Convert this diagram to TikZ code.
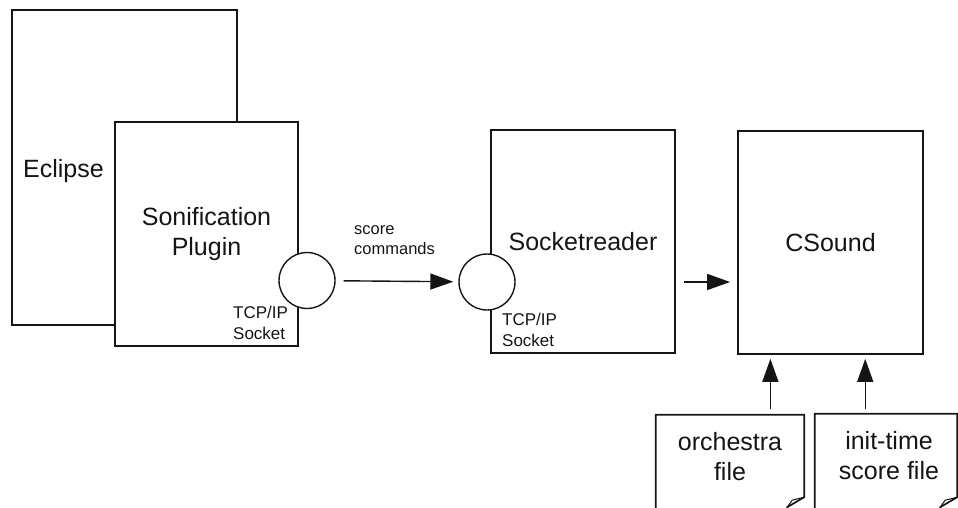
\documentclass[tikz,border=0pt]{standalone}
\usepackage{fontspec}
\setmainfont{Liberation Sans}
\usepackage{tikz}
\usetikzlibrary{calc,arrows.meta}
\definecolor{ink}{HTML}{151515}
\definecolor{paper}{HTML}{FFFFFF}
\tikzset{
  box/.style={draw=ink, line width=1.7pt, fill=paper, align=center, text=ink, font=\fontsize{25}{30}\selectfont},
  socket/.style={circle, draw=ink, line width=1.4pt, fill=paper, minimum size=56pt, inner sep=0pt},
  smalltext/.style={align=left, inner sep=0pt, text=ink, font=\fontsize{17}{21}\selectfont},
  bigtext/.style={align=center, inner sep=0pt, text=ink, font=\fontsize{25}{30}\selectfont},
  filebox/.style={inner sep=0pt},
  outline/.style={draw=ink, line width=1.7pt, fill=paper, line join=miter},
  flow/.style={draw=ink, line width=1.4pt, -{Triangle[length=23pt,width=16pt]}}
}

\begin{document}
\begin{tikzpicture}[x=1pt,y=-1pt]
\useasboundingbox (0,0) rectangle (958,507);
\clip (0,0) rectangle (958,507);
% host and plugin
\node[box, minimum width=225pt, minimum height=315pt] (eclipse) at (124.5,167.5) {};
\node[bigtext, anchor=base west] (eclipselabel) at (23,177) {Eclipse};
\node[box, minimum width=183pt, minimum height=224pt] (plugin) at (206.5,234) {Sonification\\Plugin};
\node[socket] (sockL) at (307,280.5) {};
\node[smalltext, anchor=north west] (tcpL) at (233,305.5) {TCP/IP\\Socket};
% reader
\node[box, minimum width=184pt, minimum height=223pt] (sreader) at (583,241.5) {Socketreader};
\node[socket] (sockR) at (487,282) {};
\node[smalltext, anchor=north west] (tcpR) at (502,313) {TCP/IP\\Socket};
% synth
\node[box, minimum width=185pt, minimum height=223pt] (csound) at (830.5,242.5) {CSound};
\coordinate (in1) at ($(csound.south west)!0.178!(csound.south east)$);
\coordinate (in2) at ($(csound.south west)!0.686!(csound.south east)$);
% input files, cut off at the bottom
\node[filebox, minimum width=148pt, minimum height=97pt] (orch) at (730,463.5) {};
\node[filebox, minimum width=142pt, minimum height=98pt] (init) at (886,463) {};
\foreach \f in {orch,init}{
  \draw[outline] (\f.south west) -- (\f.north west) -- (\f.north east)
    -- ([yshift=15pt]\f.south east) -- ([xshift=-17pt,yshift=5pt]\f.south east)
    -- ([xshift=-17pt]\f.south east) -- cycle;
  \draw[draw=ink, line width=1pt] ([yshift=15pt]\f.south east) -- ([xshift=-12pt,yshift=12pt]\f.south east)
    -- ([xshift=-17pt,yshift=5pt]\f.south east);
}
\node[bigtext] (orchlabel) at ([yshift=6.5pt]orch.center) {orchestra\\file};
\node[bigtext] (initlabel) at ([xshift=3pt,yshift=7pt]init.center) {init-time\\score file};
% connectors
\draw[flow, shorten <=8pt, shorten >=5pt] (sockL) -- (sockR);
\node[smalltext, anchor=north west, font=\fontsize{16.5}{20}\selectfont] (cmds) at (354,225) {score\\commands};
\draw[flow, shorten <=8pt, shorten >=7pt] (sreader.east |- sockR) -- (csound.west |- sockR);
\draw[flow, shorten <=6pt, shorten >=4pt] (orch.north -| in1) -- (in1);
\draw[flow, shorten <=5pt, shorten >=4pt] (init.north -| in2) -- (in2);
\end{tikzpicture}
\end{document}
